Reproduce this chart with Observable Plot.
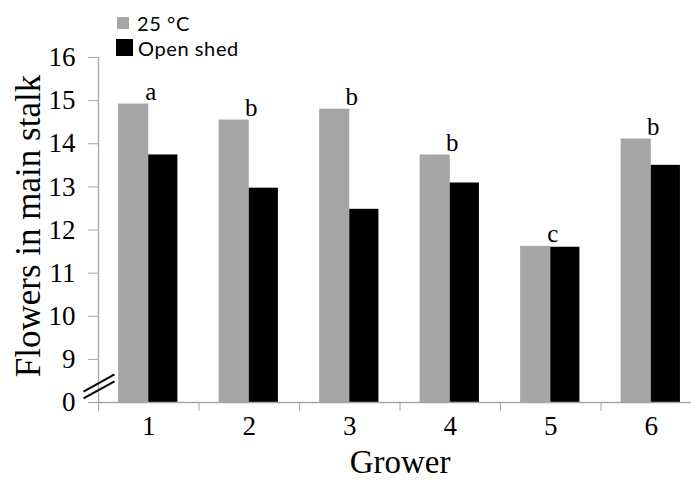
<!DOCTYPE html>
<html><head><meta charset="utf-8">
<script src="https://cdn.jsdelivr.net/npm/d3@7"></script>
<script src="https://cdn.jsdelivr.net/npm/@observablehq/plot@0.6"></script>
<style>
html,body{margin:0;padding:0;overflow:hidden;background:#fff}
#wrap{position:relative;width:691px;height:493px}
.sw{position:absolute}
.lt{position:absolute;font-family:Lato,"Open Sans",sans-serif;font-size:20px;letter-spacing:0.6px;color:#000;white-space:pre;line-height:1}
</style></head><body><div id="wrap"></div>
<script>
const growers = [1, 2, 3, 4, 5, 6];
const seriesNames = ["25 °C", "Open shed"];
const seriesColors = ["#a6a6a6", "#000000"];
const values25 = [14.92, 14.55, 14.80, 13.74, 11.62, 14.11];
const valuesShed = [13.74, 12.97, 12.48, 13.09, 11.60, 13.50];
const letters = ["a", "b", "b", "b", "c", "b"];
const yTicks = [8, 9, 10, 11, 12, 13, 14, 15, 16];
const yTickLabels = ["0", "9", "10", "11", "12", "13", "14", "15", "16"];
const xBoundaries = [0.5, 1.5, 2.5, 3.5, 4.5, 5.5];
const xLabel = "Grower";
const yLabel = "Flowers in main stalk";
// axis-break marker (two short parallel slashes) in data units
const breakX1 = [0.351, 0.351];
const breakY1 = [8.255, 8.093];
const breakX2 = [0.659, 0.659];
const breakY2 = [8.65, 8.49];

const axisGray = "#a6a6a6";
const serif = "'Liberation Serif', 'Times New Roman', serif";

const rows = [];
growers.forEach((g, i) => {
  rows.push({grower: g, series: seriesNames[0], value: values25[i], k: 0});
  rows.push({grower: g, series: seriesNames[1], value: valuesShed[i], k: 1});
});
const letterRows = growers.map((g, i) => ({grower: g, value: values25[i], letter: letters[i]}));
const breakRows = breakX1.map((_, i) => ({x1: breakX1[i], y1: breakY1[i], x2: breakX2[i], y2: breakY2[i]}));
const yLabelRows = yTicks.map((t, i) => ({y: t, label: yTickLabels[i]}));

const chart = Plot.plot({
  width: 691,
  height: 493,
  marginLeft: 98,
  marginRight: 0,
  marginTop: 57,
  marginBottom: 91,
  x: {type: "linear", domain: [0.5, 6.4]},
  y: {domain: [8, 16]},
  color: {domain: seriesNames, range: seriesColors},
  style: {fontFamily: serif, background: "white", overflow: "hidden", color: "black"},
  marks: [
    Plot.rectY(rows, {
      x1: d => d.k === 0 ? d.grower - 0.3 : d.grower,
      x2: d => d.k === 0 ? d.grower : d.grower + 0.29,
      y1: 8, y2: "value", fill: "series"
    }),
    Plot.ruleY([8], {stroke: axisGray, strokeWidth: 1.3}),
    Plot.ruleX([0.5], {y1: 8, y2: 16, stroke: axisGray, strokeWidth: 1.3}),
    Plot.axisY({
      ticks: yTicks, tickFormat: () => "",
      tickSize: 10, stroke: axisGray, label: null
    }),
    Plot.text(yLabelRows, {
      x: 0.5, y: "y", text: "label", frameAnchor: "left",
      textAnchor: "end", dx: -23, fontSize: 27, fill: "black"
    }),
    Plot.axisX({
      ticks: xBoundaries, tickFormat: () => "",
      tickSize: 9, stroke: axisGray, label: null
    }),
    Plot.axisX({
      ticks: growers, tickFormat: d => String(d),
      tickSize: 0, tickPadding: 13, fontSize: 27, fill: "black", label: null
    }),
    Plot.link(breakRows, {x1: "x1", y1: "y1", x2: "x2", y2: "y2", stroke: "black", strokeWidth: 2}),
    Plot.text(letterRows, {
      x: "grower", y: "value", text: "letter", dx: 2, dy: -4,
      lineAnchor: "bottom", fontSize: 25, fill: "black"
    }),
    Plot.text([yLabel], {frameAnchor: "left", textAnchor: "middle", rotate: -90, dx: -70, dy: -4, fontSize: 35, fill: "black"}),
    Plot.text([xLabel], {x: [3.5], frameAnchor: "bottom", dy: 60, lineAnchor: "middle", fontSize: 33, fill: "black"})
  ]
});

const wrap = document.getElementById("wrap");
wrap.appendChild(chart);

// legend
const legendItems = [
  {name: seriesNames[0], color: seriesColors[0], sx: 117, sy: 17, s: 12, tx: 137, ty: 13},
  {name: seriesNames[1], color: seriesColors[1], sx: 116, sy: 39, s: 17, tx: 138, ty: 38}
];
legendItems.forEach(it => {
  const sw = document.createElement("div");
  sw.className = "sw";
  Object.assign(sw.style, {left: it.sx + "px", top: it.sy + "px", width: it.s + "px", height: it.s + "px", background: it.color});
  wrap.appendChild(sw);
  const t = document.createElement("div");
  t.className = "lt";
  t.textContent = it.name;
  Object.assign(t.style, {left: it.tx + "px", top: it.ty + "px"});
  wrap.appendChild(t);
});
</script></body></html>
